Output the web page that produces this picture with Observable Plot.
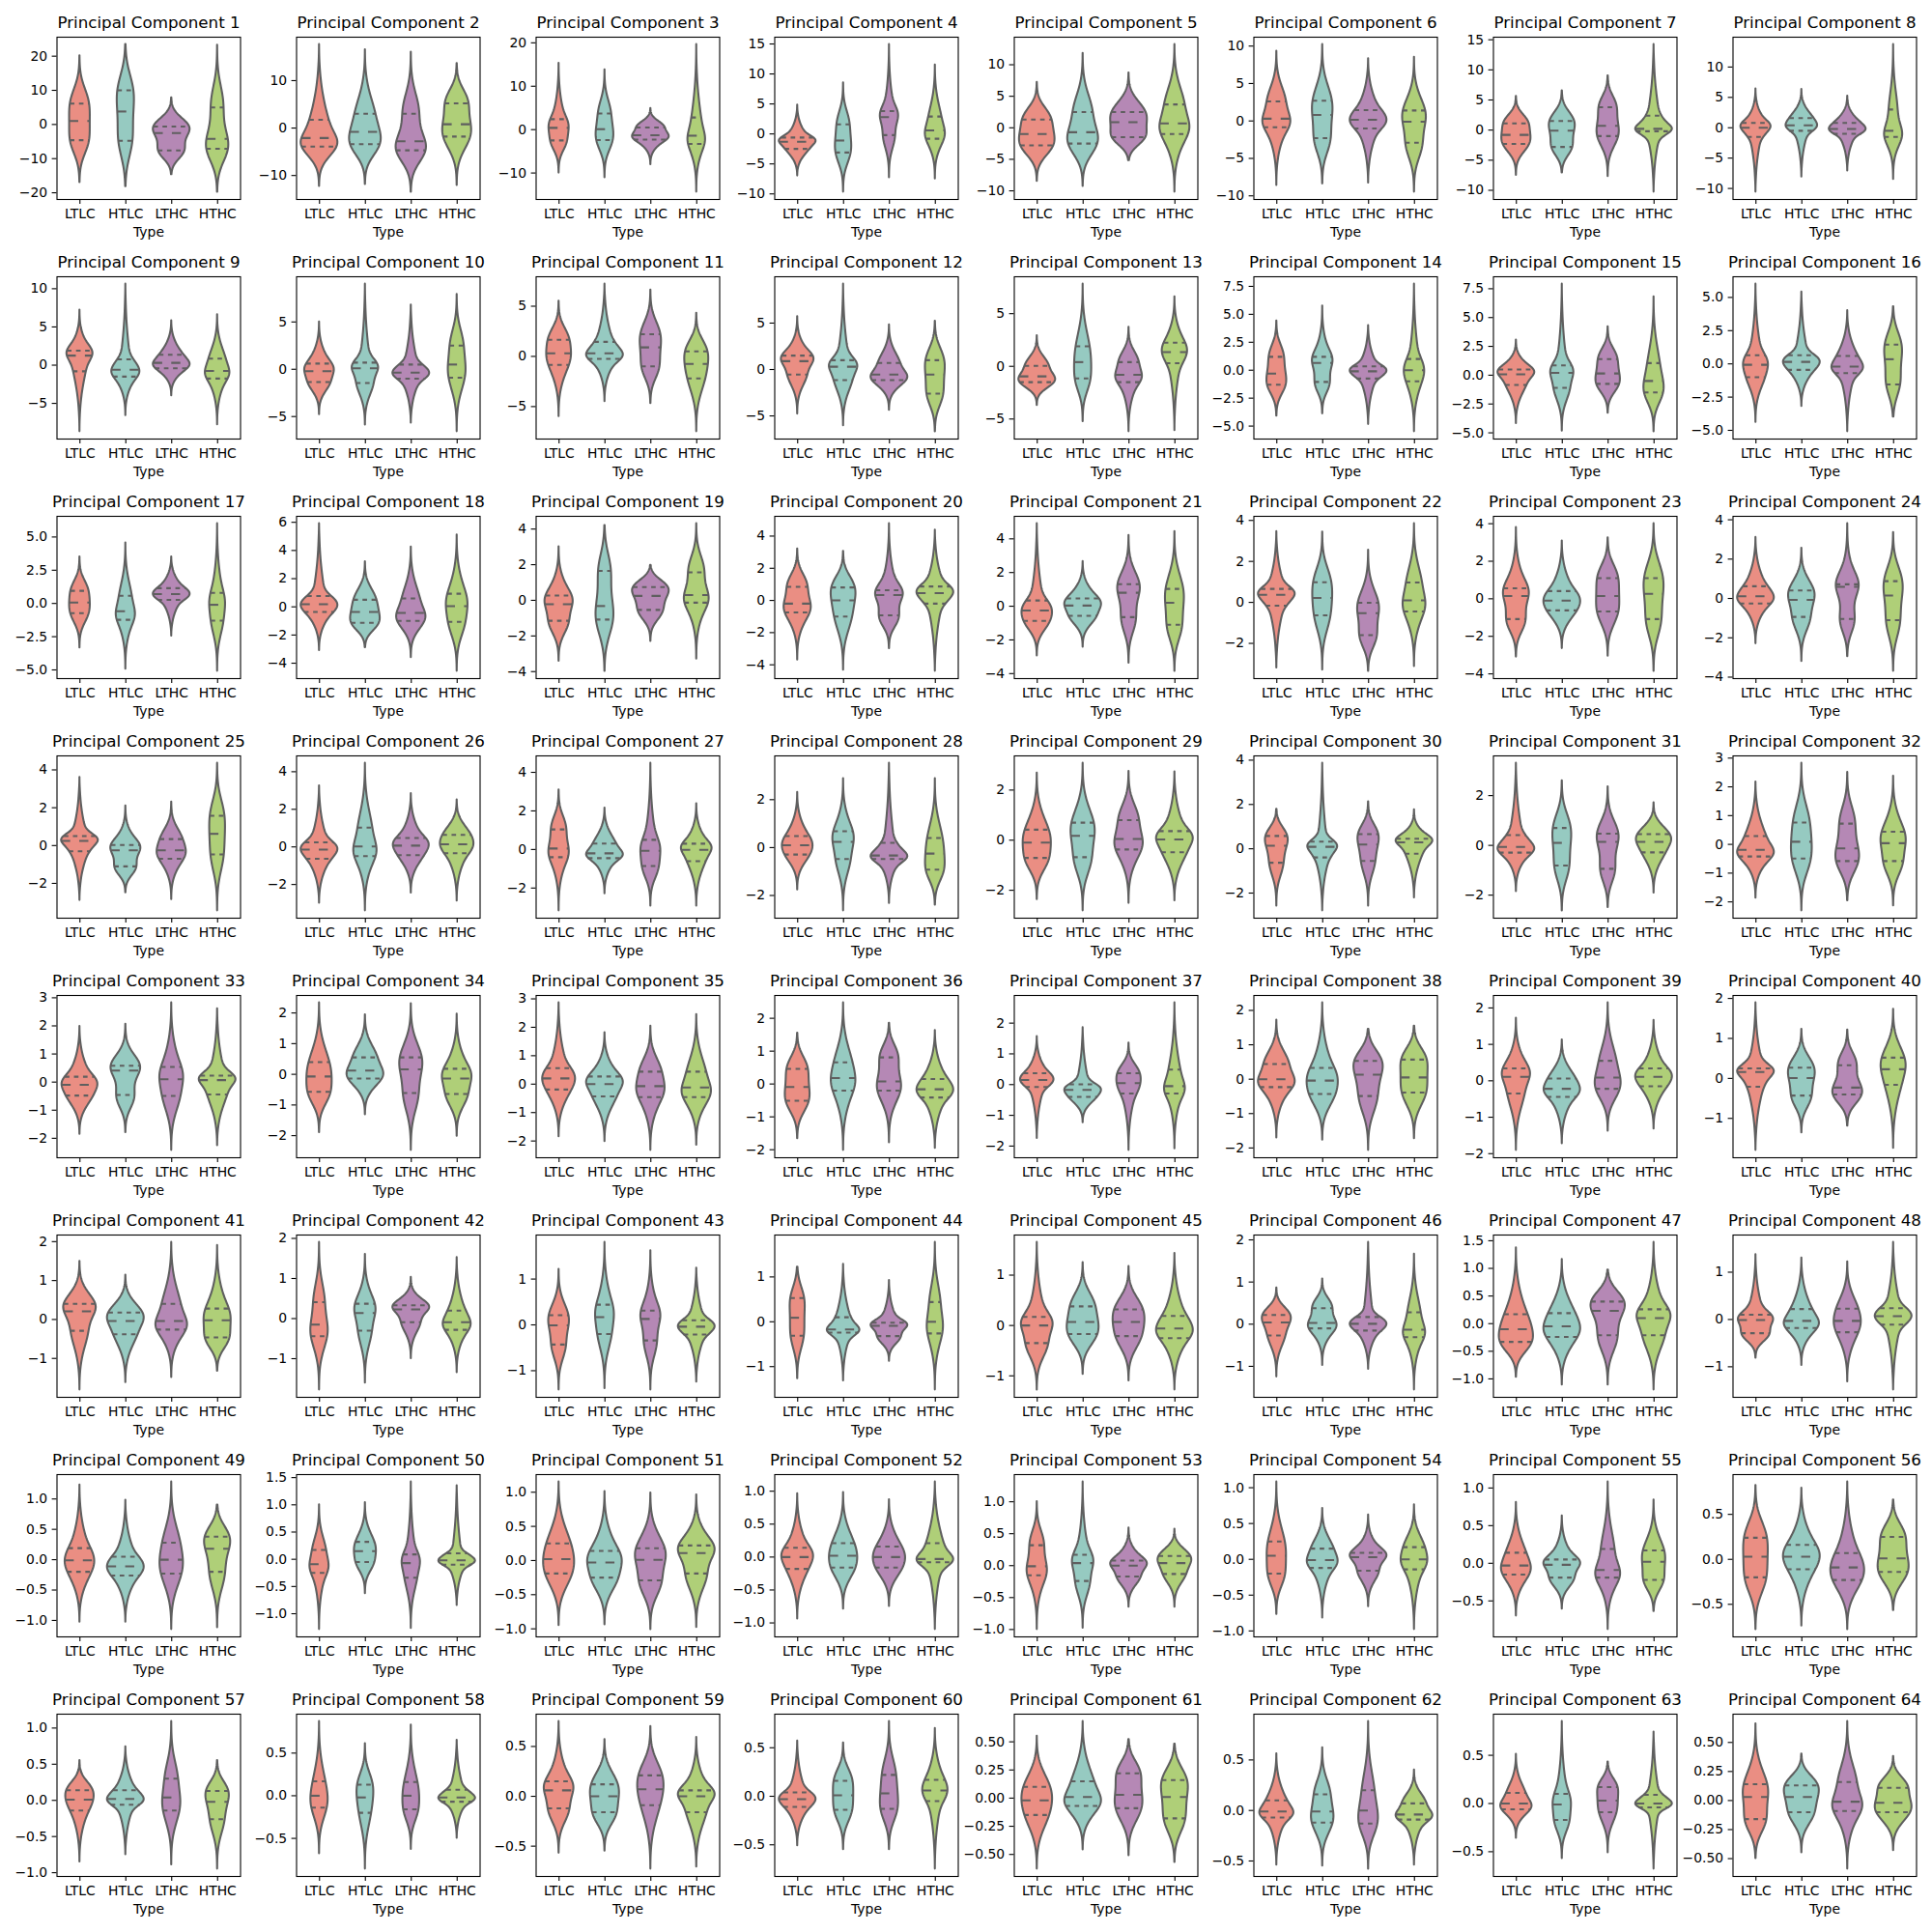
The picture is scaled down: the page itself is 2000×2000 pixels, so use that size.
<!DOCTYPE html>
<html><head><meta charset="utf-8">
<script src="https://cdn.jsdelivr.net/npm/d3@7"></script>
<script src="https://cdn.jsdelivr.net/npm/@observablehq/plot@0.6"></script>
<style>
body{margin:0;background:#fff;}
#grid{position:relative;width:2000px;height:2000px;background:#fff;}
#grid svg{position:absolute;overflow:visible;}
</style></head><body><div id="grid"></div>
<script>
const types = ["LTLC","HTLC","LTHC","HTHC"];
const colors = ["#ea8e83","#96cac1","#b588b5","#afcf78"];
const titles = d3.range(1,65).map(i => `Principal Component ${i}`);
const tickSteps = [10,10,10,5,5,5,5,5, 5,5,5,5,5,2.5,2.5,2.5, 2.5,2,2,2,2,2,2,2, 2,2,2,2,2,2,2,1,
  1,1,1,1,1,1,1,1, 1,1,1,1,1,1,0.5,1, 0.5,0.5,0.5,0.5,0.5,0.5,0.5,0.5, 0.5,0.5,0.5,0.5,0.25,0.5,0.5,0.25];
// each entry: [bottom, q1, median, q3, top]
const LTLC = [
[-17.0,-4.6,1.0,6.1,20.1],[-12.3,-3.9,-2.1,1.75,17.6],[-10.0,-2.5,0.4,2.4,15.3],[-7.0,-2.5,-1.3,-0.6,4.8],
[-8.5,-2.8,-1.0,1.3,7.2],[-8.6,-0.85,0.3,2.6,9.3],[-7.5,-2.3,-0.8,1.1,5.6],[-10.6,-1.5,0.0,0.8,6.4],
[-8.7,-0.8,1.25,1.9,7.2],[-4.8,-1.35,-0.2,0.6,5.0],[-6.0,-0.85,0.3,1.65,5.5],[-4.8,-0.55,0.9,1.5,5.7],
[-3.7,-1.5,-0.95,0.05,2.9],[-4.1,-1.3,-0.3,1.2,4.4],[-4.2,-0.85,0.08,0.5,3.05],[-4.4,-1.0,-0.07,0.65,6.0],
[-3.35,-0.73,0.07,0.95,3.5],[-3.1,-0.36,0.18,0.77,5.9],[-3.42,-1.15,-0.22,0.27,3.0],[-3.7,-0.75,-0.2,0.85,3.2],
[-2.95,-0.87,-0.25,0.34,4.9],[-3.2,-0.16,0.37,0.66,3.45],[-3.1,-1.08,0.15,0.56,3.8],[-2.3,-0.26,0.11,0.62,3.1],
[-2.9,-0.3,0.25,0.5,3.6],[-3.0,-0.63,-0.14,0.24,3.25],[-3.18,-0.4,0.05,1.04,3.08],[-1.77,-0.29,0.1,0.48,2.3],
[-2.37,-0.71,-0.1,0.42,2.68],[-2.59,-0.63,0.14,0.58,1.78],[-1.86,-0.29,-0.06,0.41,3.3],[-1.87,-0.42,-0.19,0.29,2.17],
[-1.86,-0.48,-0.1,0.19,1.98],[-1.9,-0.57,-0.07,0.4,2.33],[-1.85,-0.19,0.2,0.56,2.86],[-1.66,-0.51,-0.09,0.46,1.55],
[-1.75,-0.08,0.15,0.37,1.56],[-1.71,-0.23,0.0,0.44,1.72],[-1.91,-0.35,0.11,0.34,1.72],[-1.8,-0.21,0.16,0.25,1.89],
[-1.81,-0.29,0.21,0.4,1.49],[-1.78,-0.44,-0.15,0.41,1.9],[-1.42,-0.43,-0.01,0.21,1.21],[-1.27,-0.31,0.09,0.53,1.22],
[-1.28,-0.35,0.0,0.17,1.65],[-1.25,-0.27,0.04,0.22,0.86],[-0.97,-0.33,-0.1,0.17,1.37],[-0.82,-0.29,-0.01,0.1,1.37],
[-1.03,-0.2,-0.01,0.19,1.23],[-1.29,-0.25,-0.09,0.17,1.0],[-0.95,-0.19,0.02,0.25,1.15],[-0.94,-0.18,0.0,0.14,0.96],
[-1.0,-0.15,-0.01,0.32,1.0],[-0.77,-0.2,0.05,0.25,1.08],[-0.7,-0.15,-0.03,0.14,0.81],[-0.78,-0.2,0.03,0.24,0.82],
[-0.85,-0.14,0.01,0.14,0.55],[-0.68,-0.14,0.0,0.17,0.87],[-0.57,-0.12,0.06,0.15,0.75],[-0.51,-0.11,-0.03,0.04,0.57],
[-0.63,-0.15,-0.02,0.1,0.55],[-0.54,-0.07,-0.01,0.1,0.56],[-0.36,-0.06,0.0,0.11,0.51],[-0.5,-0.16,0.03,0.14,0.66]];
const HTLC = [
[-18.2,-4.8,3.8,10.0,23.4],[-11.9,-3.4,-0.8,3.0,16.5],[-11.1,-2.4,0.1,3.7,13.8],[-9.7,-3.1,-1.1,1.6,8.5],
[-9.3,-2.5,-0.7,2.5,11.8],[-8.4,-2.3,0.8,2.7,10.2],[-7.1,-2.8,-0.1,1.5,6.5],[-8.1,-0.5,0.4,1.6,6.3],
[-6.6,-1.5,-0.6,0.75,10.6],[-5.9,-1.45,0.1,0.7,9.0],[-4.5,-0.25,0.3,1.45,7.2],[-6.05,-1.15,0.3,1.0,9.2],
[-5.25,-1.15,0.4,1.9,7.8],[-3.9,-1.05,0.65,1.2,5.75],[-4.85,-1.1,0.2,0.85,7.9],[-3.2,-0.45,0.15,0.65,5.4],
[-4.95,-1.23,-0.58,0.58,4.55],[-2.9,-1.14,-0.36,0.5,3.2],[-3.98,-1.08,-0.32,1.65,4.2],[-4.33,-1.0,0.0,0.81,3.05],
[-2.43,-0.57,0.04,0.46,2.66],[-3.3,-0.63,0.22,0.98,3.43],[-2.65,-0.62,-0.1,0.41,3.08],[-3.2,-0.94,-0.07,0.41,2.55],
[-2.5,-1.1,-0.25,0.03,2.1],[-3.4,-0.49,0.02,1.03,4.45],[-2.3,-0.45,-0.2,0.31,2.15],[-2.64,-0.48,0.24,0.68,2.88],
[-2.82,-0.68,0.17,0.7,3.07],[-2.8,-0.39,0.09,0.32,3.86],[-2.63,-0.81,0.1,0.7,2.6],[-2.31,-0.49,0.09,0.76,2.82],
[-1.8,-0.46,0.41,0.58,2.06],[-1.32,-0.14,0.12,0.55,1.94],[-2.02,-0.43,0.0,0.27,1.81],[-2.02,-0.2,0.18,0.66,2.47],
[-1.24,-0.4,-0.17,0.01,1.85],[-1.77,-0.43,-0.04,0.33,2.22],[-1.73,-0.44,-0.22,0.06,1.12],[-1.36,-0.43,0.01,0.27,1.23],
[-1.62,-0.38,-0.04,0.18,1.14],[-1.61,-0.3,0.14,0.37,1.6],[-1.39,-0.2,0.17,0.44,1.8],[-1.32,-0.24,-0.17,0.1,1.28],
[-0.97,-0.17,0.07,0.38,1.25],[-0.98,-0.1,0.03,0.38,1.07],[-1.11,-0.24,-0.05,0.19,1.16],[-0.97,-0.18,-0.03,0.22,1.3],
[-1.03,-0.26,-0.11,0.05,0.98],[-0.63,-0.05,0.15,0.32,1.04],[-0.94,-0.25,-0.03,0.14,1.01],[-0.79,-0.16,0.02,0.21,0.98],
[-0.98,-0.24,0.04,0.17,1.31],[-0.82,-0.12,-0.01,0.15,0.71],[-0.61,-0.19,-0.02,0.05,0.63],[-0.74,-0.11,0.03,0.16,0.79],
[-0.75,-0.06,0.02,0.14,0.74],[-0.86,-0.2,-0.02,0.13,0.61],[-0.55,-0.16,0.0,0.12,0.57],[-0.55,-0.14,0.01,0.16,0.55],
[-0.46,-0.07,0.01,0.15,0.68],[-0.55,-0.12,-0.01,0.16,0.62],[-0.57,-0.17,-0.01,0.1,0.85],[-0.45,-0.1,0.03,0.13,0.4]];
const LTHC = [
[-14.7,-7.6,-2.5,-0.6,7.8],[-13.5,-4.7,-2.8,3.0,16.0],[-8.1,-2.3,-1.3,0.5,4.9],[-7.3,-0.2,2.8,3.8,14.9],
[-5.2,-1.5,0.9,2.5,8.7],[-8.3,-1.0,0.15,1.45,8.3],[-7.7,-1.0,0.7,3.8,9.0],[-7.1,-1.0,-0.2,0.8,5.2],
[-4.0,-0.4,0.3,1.35,5.8],[-5.7,-1.0,-0.35,0.5,6.8],[-4.7,-1.0,0.9,2.2,6.6],[-4.4,-1.15,-0.55,0.7,4.8],
[-6.2,-1.5,-0.8,0.4,3.7],[-4.85,-0.75,-0.1,0.35,4.0],[-3.3,-0.75,0.15,1.4,4.2],[-5.1,-0.7,-0.2,0.6,4.0],
[-2.45,0.27,0.7,1.15,3.5],[-3.6,-1.0,-0.43,0.6,4.25],[-2.3,-0.54,0.25,0.74,1.96],[-3.0,-0.93,0.34,0.64,4.77],
[-3.38,-0.65,0.8,1.31,4.2],[-3.36,-1.6,-0.53,-0.02,2.55],[-3.06,-0.68,0.15,1.1,3.25],[-2.96,-1.04,0.59,0.72,3.8],
[-2.85,-0.7,-0.25,0.34,2.3],[-2.46,-0.44,0.07,0.47,2.83],[-2.93,-0.86,-0.07,0.5,4.47],[-2.33,-0.48,-0.33,0.2,3.52],
[-2.52,-0.37,0.05,0.8,2.75],[-2.59,-0.55,0.19,0.66,2.12],[-2.5,-0.94,0.14,0.47,2.35],[-1.96,-0.58,-0.14,0.72,2.5],
[-2.43,-0.49,0.1,0.54,2.82],[-2.48,-0.61,0.16,0.55,2.3],[-2.33,-0.46,-0.07,0.44,2.04],[-1.79,-0.2,0.08,0.81,1.85],
[-2.14,-0.29,0.05,0.37,1.35],[-2.07,-0.49,0.13,0.53,1.45],[-1.38,-0.22,0.09,0.55,2.14],[-1.19,-0.4,-0.23,0.33,1.21],
[-1.49,-0.26,-0.04,0.4,1.98],[-1.0,-0.09,0.23,0.33,1.03],[-1.42,-0.34,0.13,0.31,1.62],[-0.88,-0.32,-0.09,-0.02,0.92],
[-1.1,-0.21,0.07,0.32,1.17],[-1.07,-0.15,0.01,0.17,1.94],[-1.11,-0.21,0.23,0.4,0.97],[-1.32,-0.27,-0.03,0.23,1.22],
[-1.15,-0.23,0.0,0.28,1.28],[-1.27,-0.34,-0.07,0.09,1.42],[-1.01,-0.29,0.01,0.18,0.99],[-0.75,-0.16,0.0,0.16,0.87],
[-0.65,-0.17,0.0,0.08,0.59],[-0.66,-0.16,0.03,0.09,0.62],[-0.88,-0.19,-0.09,0.19,1.08],[-0.78,-0.23,-0.09,0.07,0.86],
[-0.89,-0.14,0.04,0.3,1.09],[-0.63,-0.16,0.0,0.16,0.83],[-0.73,-0.09,0.07,0.21,0.7],[-0.55,-0.13,0.03,0.22,0.77],
[-0.51,-0.09,0.03,0.22,0.52],[-0.58,-0.13,0.0,0.2,0.88],[-0.51,-0.09,0.03,0.17,0.43],[-0.59,-0.09,-0.01,0.16,0.68]];
const HTHC = [
[-19.8,-7.1,-4.2,5.0,23.2],[-12.1,-1.8,0.8,5.2,13.6],[-14.4,-3.3,-1.4,2.8,19.6],[-7.5,-0.8,0.6,2.9,11.5],
[-10.2,-1.0,0.7,3.7,13.2],[-9.5,-2.9,-0.1,1.4,8.5],[-10.3,-0.2,0.2,2.4,14.2],[-8.5,-1.5,-0.5,3.0,13.7],
[-7.8,-1.75,-0.75,0.85,6.6],[-6.6,-0.9,0.5,2.5,7.9],[-7.5,-2.2,-0.75,0.5,4.3],[-6.7,-2.6,-0.55,1.0,5.2],
[-6.1,0.3,1.35,2.25,6.6],[-5.5,-1.0,0.0,1.0,7.7],[-4.9,-1.5,-0.5,1.05,6.8],[-4.0,-1.55,0.35,1.45,4.3],
[-5.1,-1.3,-0.1,0.8,6.0],[-4.57,-1.07,0.05,0.93,5.1],[-3.3,-0.13,0.3,1.57,4.3],[-4.4,-0.2,0.46,0.87,4.37],
[-3.86,-1.1,0.2,1.03,4.43],[-3.13,-0.44,0.1,0.97,3.84],[-3.86,-1.08,0.26,1.1,4.0],[-3.7,-1.1,0.15,0.88,3.35],
[-3.45,-0.47,0.62,1.57,4.35],[-2.88,-0.34,0.14,0.64,2.5],[-2.93,-0.61,-0.02,0.3,2.37],[-2.4,-0.92,-0.25,0.4,2.88],
[-2.42,-0.48,0.03,0.36,2.73],[-2.22,-0.22,0.29,0.45,1.76],[-1.92,-0.28,0.14,0.45,1.71],[-2.14,-0.58,0.04,0.44,2.37],
[-2.26,-0.44,0.07,0.23,2.61],[-2.02,-0.64,-0.14,0.18,1.96],[-2.15,-0.46,-0.12,0.44,2.45],[-1.96,-0.41,-0.16,0.15,1.63],
[-2.09,-0.29,-0.05,0.49,2.66],[-1.73,-0.39,0.05,0.57,1.54],[-1.32,-0.15,0.11,0.34,1.66],[-1.75,-0.16,0.23,0.52,1.73],
[-1.33,-0.46,-0.02,0.28,1.9],[-1.35,-0.28,-0.09,0.2,1.52],[-1.25,-0.21,-0.04,0.1,1.24],[-1.52,-0.26,0.0,0.44,1.77],
[-1.28,-0.25,-0.06,0.19,1.43],[-1.56,-0.31,-0.13,0.28,1.66],[-1.2,-0.21,0.1,0.26,1.47],[-1.49,-0.11,0.07,0.24,1.63],
[-1.12,-0.2,0.18,0.38,0.9],[-0.85,-0.1,-0.02,0.11,1.35],[-0.98,-0.19,0.11,0.22,0.96],[-1.1,-0.08,-0.03,0.21,1.14],
[-0.65,-0.13,0.04,0.15,0.57],[-0.98,-0.14,0.0,0.17,0.76],[-0.64,-0.22,0.02,0.17,0.84],[-0.57,-0.14,0.01,0.25,0.66],
[-0.95,-0.26,-0.02,0.13,0.55],[-0.5,-0.07,-0.02,0.07,0.65],[-0.71,-0.16,0.0,0.06,0.59],[-0.75,-0.05,0.06,0.17,0.7],
[-0.57,-0.18,0.01,0.16,0.48],[-0.54,-0.09,-0.04,0.07,0.4],[-0.68,-0.04,0.0,0.09,0.74],[-0.43,-0.1,-0.02,0.11,0.38]];
const groups = [LTLC, HTLC, LTHC, HTHC];

const GRAY = "#5f5f5f";
const LW = 2.08;

// smooth density profile consistent with the read extents and quartiles
function profile(v) {
  const [lo, q1, med, q3, hi] = v;
  let bw = Math.min(0.32 * (q3 - q1), 0.4 * (q1 - lo), 0.4 * (hi - q3));
  if (!(bw > 0)) bw = (hi - lo) * 0.05;
  const dmin = lo + 2 * bw, dmax = hi - 2 * bw;
  const Z = 0.6745, ZE = 2.576, M = 120;
  const xs = [], ws = [];
  for (let j = 0; j <= M; j++) {
    const z = -ZE + 2 * ZE * j / M;
    let x;
    if (z < -Z) x = q1 - (q1 - dmin) * (-z - Z) / (ZE - Z);
    else if (z < 0) x = med + (med - q1) * z / Z;
    else if (z < Z) x = med + (q3 - med) * z / Z;
    else x = q3 + (dmax - q3) * (z - Z) / (ZE - Z);
    xs.push(x); ws.push(Math.exp(-z * z / 2));
  }
  const wsum = d3.sum(ws);
  const dens = y => {
    let s = 0;
    for (let j = 0; j < xs.length; j++) { const u = (y - xs[j]) / bw; s += ws[j] * Math.exp(-u * u / 2); }
    return s / (wsum * bw * Math.sqrt(2 * Math.PI));
  };
  const G = 100, ys = [], ds = [];
  for (let i = 0; i < G; i++) { const y = lo + (hi - lo) * i / (G - 1); ys.push(y); ds.push(dens(y)); }
  return {ys, ds, dens, q: [q1, med, q3]};
}

const grid = document.getElementById("grid");
for (let p = 0; p < 64; p++) {
  const r = Math.floor(p / 8), c = p % 8;
  const profs = groups.map(g => profile(g[p]));
  const maxD = d3.max(profs, pr => d3.max(pr.ds));
  const lo = d3.min(groups, g => g[p][0]), hi = d3.max(groups, g => g[p][4]);
  const m = 0.05 * (hi - lo);
  const ymin = lo - m, ymax = hi + m;
  const step = tickSteps[p];
  const dec = step >= 1 && Number.isInteger(step) ? 0 : (step === 0.25 ? 2 : 1);
  const k0 = Math.ceil(ymin / step - 1e-9), k1 = Math.floor(ymax / step + 1e-9);
  const yticks = d3.range(k0, k1 + 1).map(k => +(k * step).toFixed(4));
  const fmt = d => (d < 0 ? "\u2212" : "") + Math.abs(d).toFixed(dec);

  const marks = [];
  profs.forEach((pr, g) => {
    const rows = pr.ys.map((y, i) => ({y, x1: g - 0.4 * pr.ds[i] / maxD, x2: g + 0.4 * pr.ds[i] / maxD}));
    marks.push(Plot.areaX(rows, {y: "y", x1: "x1", x2: "x2", fill: colors[g], stroke: GRAY, strokeWidth: LW, strokeLinejoin: "round"}));
  });
  profs.forEach((pr, g) => {
    const qs = pr.q.map((y, k) => ({y, k, x1: g - 0.4 * pr.dens(y) / maxD, x2: g + 0.4 * pr.dens(y) / maxD}));
    marks.push(Plot.ruleY(qs.filter(d => d.k !== 1), {y: "y", x1: "x1", x2: "x2", stroke: GRAY, strokeWidth: LW, strokeDasharray: "4.7,4.7"}));
    marks.push(Plot.ruleY(qs.filter(d => d.k === 1), {y: "y", x1: "x1", x2: "x2", stroke: GRAY, strokeWidth: LW, strokeDasharray: "9.4,9.4"}));
  });
  marks.push(Plot.frame({stroke: "black", strokeWidth: 1.1}));
  marks.push(Plot.axisX({ticks: [0, 1, 2, 3], tickFormat: i => types[i], tickSize: 4.9, tickPadding: 4.9, label: null, strokeWidth: 1.1, fontSize: 13.9}));
  marks.push(Plot.axisY({ticks: yticks, tickFormat: fmt, tickSize: 4.9, tickPadding: 4.9, label: null, strokeWidth: 1.1, fontSize: 13.9}));
  marks.push(Plot.text([titles[p]], {text: d => d, frameAnchor: "top", dy: -14.5, fontSize: 16.7, lineAnchor: "middle", fill: "black"}));
  marks.push(Plot.text(["Type"], {text: d => d, frameAnchor: "bottom", dy: 34, fontSize: 13.9, lineAnchor: "middle", fill: "black"}));

  const svg = Plot.plot({
    width: 250, height: 248,
    marginLeft: 58.5, marginRight: 1.5, marginTop: 38, marginBottom: 42,
    x: {domain: [-0.5, 3.5]},
    y: {domain: [ymin, ymax]},
    style: {fontFamily: "DejaVu Sans", fontSize: "13.9px", background: "transparent", overflow: "visible", color: "black"},
    marks
  });
  svg.style.position = "absolute";
  svg.style.left = (c * 247.8) + "px";
  svg.style.top = (r * 248) + "px";
  grid.appendChild(svg);
}
</script></body></html>
